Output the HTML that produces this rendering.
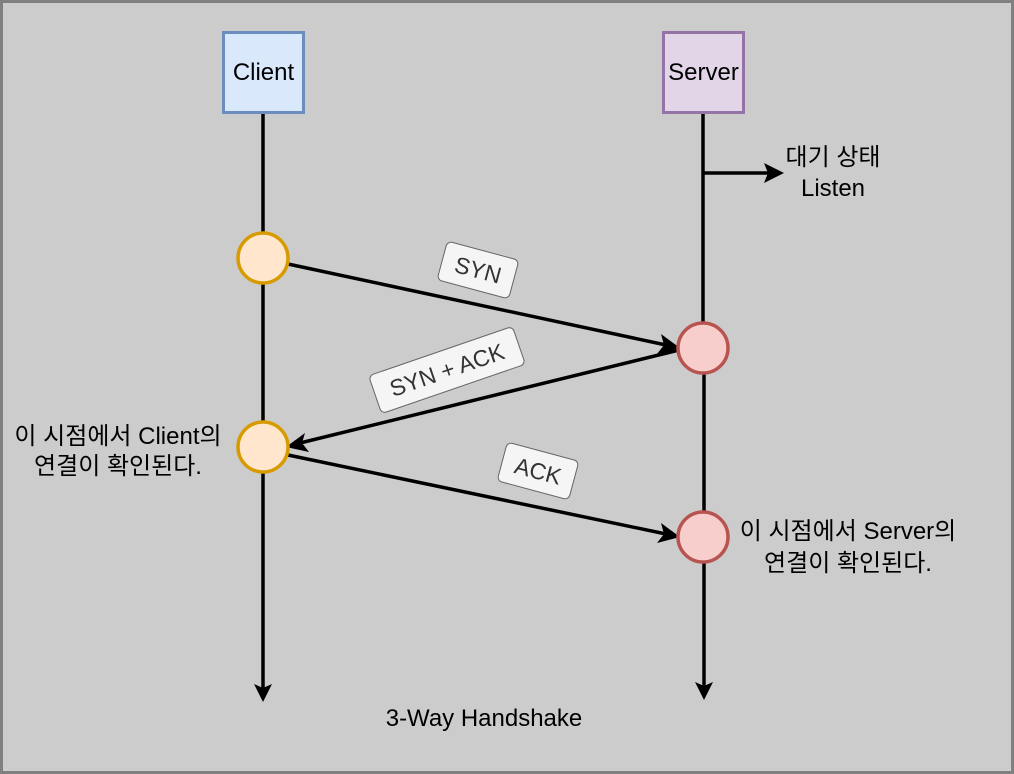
<!DOCTYPE html>
<html><head><meta charset="utf-8"><style>
html,body{margin:0;padding:0;background:#ccc;}
svg{display:block;}
text{font-family:"Liberation Sans","Noto Sans CJK KR",sans-serif;}
</style></head><body>
<svg width="1014" height="774" viewBox="0 0 1014 774" xmlns="http://www.w3.org/2000/svg">
<rect x="1.5" y="1.5" width="1011" height="771" fill="#cccccc" stroke="#808080" stroke-width="3"/>
<line x1="263" y1="113" x2="263" y2="233" stroke="#000" stroke-width="3.5"/>
<line x1="263" y1="283" x2="263" y2="422" stroke="#000" stroke-width="3.5"/>
<line x1="263" y1="472" x2="263" y2="688" stroke="#000" stroke-width="3.5"/>
<path d="M254,684 L263,702 L272,684 L263,688 z" fill="#000"/>
<line x1="703" y1="113" x2="703" y2="323" stroke="#000" stroke-width="3.5"/>
<line x1="704" y1="373" x2="704" y2="512" stroke="#000" stroke-width="3.5"/>
<line x1="704" y1="562" x2="704" y2="686" stroke="#000" stroke-width="3.5"/>
<path d="M695,682 L704,700 L713,682 L704,686 z" fill="#000"/>
<line x1="703" y1="173" x2="770" y2="173" stroke="#000" stroke-width="3.5"/>
<path d="M764,163 L784,173 L764,183 L768,173 z" fill="#000"/>
<rect x="223.5" y="32.5" width="80" height="80" fill="#dae8fc" stroke="#6c8ebf" stroke-width="3"/>
<text x="263.5" y="80" font-size="24" text-anchor="middle">Client</text>
<rect x="663.5" y="32.5" width="80" height="80" fill="#e1d5e7" stroke="#9673a6" stroke-width="3"/>
<text x="703.5" y="80" font-size="24" text-anchor="middle">Server</text>
<line x1="288" y1="264" x2="666" y2="345" stroke="#000" stroke-width="3.5"/>
<path d="M661,334 L680,348 L657,354 L664,345 z" fill="#000"/>
<line x1="679" y1="350" x2="300" y2="443" stroke="#000" stroke-width="3.5"/>
<path d="M305,433 L286,447 L309,452 L302,443 z" fill="#000"/>
<line x1="288" y1="455" x2="666" y2="534" stroke="#000" stroke-width="3.5"/>
<path d="M661,523 L680,537 L657,543 L664,534 z" fill="#000"/>
<circle cx="263" cy="258" r="25" fill="#ffe6cc" stroke="#d79b00" stroke-width="3.5"/>
<circle cx="263" cy="447" r="25" fill="#ffe6cc" stroke="#d79b00" stroke-width="3.5"/>
<circle cx="703" cy="348" r="25" fill="#f8cecc" stroke="#b85450" stroke-width="3.5"/>
<circle cx="703" cy="537" r="25" fill="#f8cecc" stroke="#b85450" stroke-width="3.5"/>
<g transform="translate(478,270) rotate(15)">
<rect x="-37" y="-20" width="74" height="40" rx="5" fill="#f5f5f5" stroke="#666" stroke-width="1"/>
<text x="0" y="8" font-size="23" text-anchor="middle" fill="#333">SYN</text></g>
<g transform="translate(447,370) rotate(-19)">
<rect x="-76" y="-20" width="152" height="40" rx="5" fill="#f5f5f5" stroke="#666" stroke-width="1"/>
<text x="0" y="8" font-size="23" text-anchor="middle" fill="#333">SYN + ACK</text></g>
<g transform="translate(538,471) rotate(15)">
<rect x="-37" y="-20" width="74" height="40" rx="5" fill="#f5f5f5" stroke="#666" stroke-width="1"/>
<text x="0" y="8" font-size="23" text-anchor="middle" fill="#333">ACK</text></g>
<text x="833" y="165" font-size="24" text-anchor="middle">대기 상태</text>
<text x="833" y="196" font-size="24" text-anchor="middle">Listen</text>
<text x="118" y="444" font-size="24" text-anchor="middle">이 시점에서 Client의</text>
<text x="118" y="474" font-size="24" text-anchor="middle">연결이 확인된다.</text>
<text x="848" y="539" font-size="24" text-anchor="middle">이 시점에서 Server의</text>
<text x="848" y="571" font-size="24" text-anchor="middle">연결이 확인된다.</text>
<text x="484" y="726" font-size="24" text-anchor="middle">3-Way Handshake</text>
</svg>
</body></html>
